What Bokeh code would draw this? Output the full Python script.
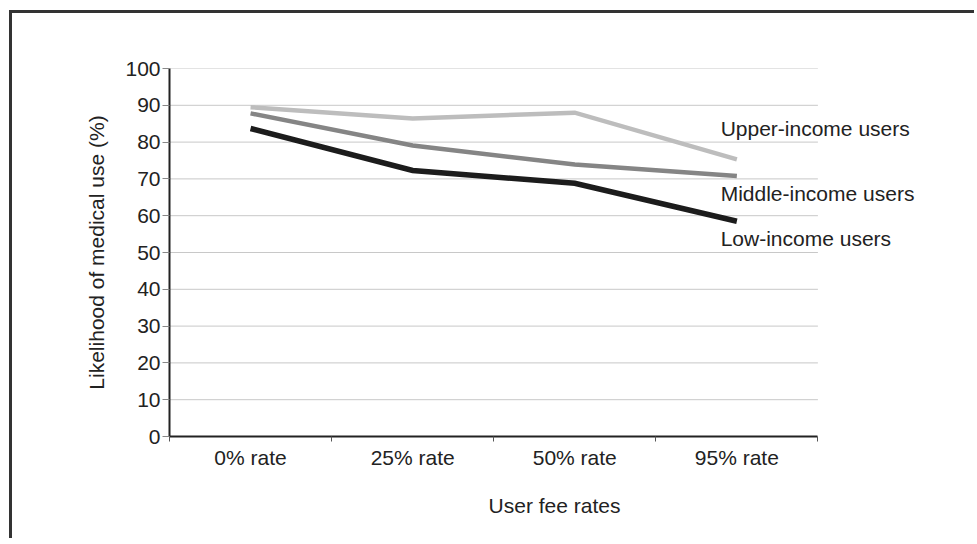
from bokeh.plotting import figure
from bokeh.models import Range1d, FixedTicker, Label
from bokeh.embed import file_html
from bokeh.resources import INLINE

categories = ["0% rate", "25% rate", "50% rate", "95% rate"]
upper_income = [89.5, 86.4, 88.0, 75.3]
middle_income = [87.8, 79.1, 73.9, 70.8]
low_income = [83.7, 72.3, 68.8, 58.5]
series_names = ["Upper-income users", "Middle-income users", "Low-income users"]
y_ticks = list(range(0, 101, 10))

FONT = "Liberation Sans"
FS = "21px"

n = len(categories)
xs = [i + 0.5 for i in range(n)]

p = figure(width=965, height=528, output_backend="svg", toolbar_location=None,
           x_range=Range1d(0, n + 0.75), y_range=Range1d(0, 100),
           min_border_left=157, min_border_right=38, min_border_top=55, min_border_bottom=105)
p.styles = {"border-left": "3px solid #333333", "border-top": "3px solid #333333",
            "margin-left": "9px", "margin-top": "10px"}
p.outline_line_color = None
p.background_fill_color = "white"
p.border_fill_color = "white"

p.xgrid.visible = False
p.ygrid.visible = False
# horizontal gridlines limited to the category area
p.segment(x0=[0] * len(y_ticks), x1=[n] * len(y_ticks), y0=y_ticks, y1=y_ticks,
          line_color="#c8c8c8", line_width=1)

# y axis
p.yaxis.ticker = FixedTicker(ticks=y_ticks)
p.yaxis.axis_line_color = "#222222"
p.yaxis.axis_line_width = 2
p.yaxis.major_tick_line_color = "#888888"
p.yaxis.major_tick_out = 7
p.yaxis.major_tick_in = 0
p.yaxis.minor_tick_line_color = None
p.yaxis.major_label_text_font = FONT
p.yaxis.major_label_text_font_size = FS
p.yaxis.major_label_text_color = "#222222"
p.yaxis.major_label_standoff = 2
p.yaxis.axis_label = "Likelihood of medical use (%)"
p.yaxis.axis_label_text_font = FONT
p.yaxis.axis_label_text_font_size = FS
p.yaxis.axis_label_text_font_style = "normal"
p.yaxis.axis_label_text_color = "#222222"
p.yaxis.axis_label_standoff = 14

# x axis
p.xaxis.bounds = (0, n)
p.xaxis.ticker = FixedTicker(ticks=xs, minor_ticks=list(range(n + 1)))
p.xaxis.major_label_overrides = {x: c for x, c in zip(xs, categories)}
p.xaxis.axis_line_color = "#222222"
p.xaxis.axis_line_width = 2
p.xaxis.major_tick_line_color = None
p.xaxis.minor_tick_line_color = "#555555"
p.xaxis.minor_tick_out = 5
p.xaxis.minor_tick_in = 0
p.xaxis.major_label_text_font = FONT
p.xaxis.major_label_text_font_size = FS
p.xaxis.major_label_text_color = "#222222"
p.xaxis.major_label_standoff = 3
p.xaxis.axis_label = "User fee rates"
p.xaxis.axis_label_text_font = FONT
p.xaxis.axis_label_text_font_size = FS
p.xaxis.axis_label_text_font_style = "normal"
p.xaxis.axis_label_text_color = "#222222"
p.xaxis.axis_label_standoff = 22

colors = ["#bdbdbd", "#858585", "#1c1c1c"]
widths = [4.5, 4.5, 5.5]
label_y = [83.7, 66.0, 53.8]
for vals, col, w, name, ly in zip([upper_income, middle_income, low_income], colors, widths, series_names, label_y):
    p.line(xs, vals, line_color=col, line_width=w, line_join="miter")
    p.add_layout(Label(x=3.40, y=ly, text=name, text_font=FONT, text_font_size=FS,
                       text_color="#222222", text_baseline="middle", text_align="left"))

open("out.html", "w").write(file_html(p, INLINE))
